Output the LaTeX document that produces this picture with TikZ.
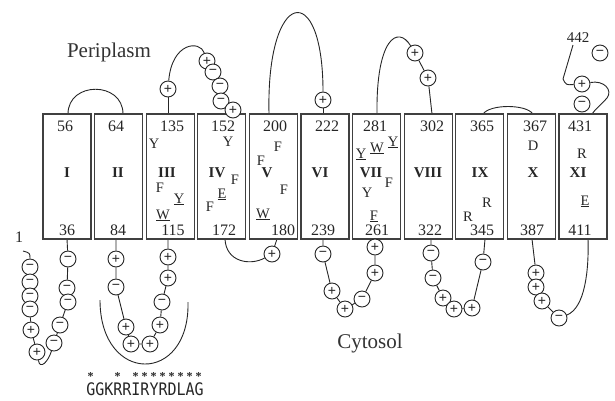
\documentclass[tikz,border=0pt]{standalone}
\usepackage{fontspec}
\usepackage{graphicx}
\setmainfont{Liberation Serif}
\newfontfamily\signfont{Liberation Sans}
\newfontfamily\seqfont{DejaVu Sans Mono}
\usetikzlibrary{backgrounds}
\tikzset{
  tmbox/.style={draw=black!75, line width=1.3pt, minimum width=48pt, minimum height=125pt, inner sep=0pt},
  num/.style={font=\fontsize{16}{16}\selectfont, text=black!85, inner sep=0pt},
  rom/.style={font=\fontsize{15}{15}\selectfont\bfseries, text=black!85, inner sep=0pt},
  res/.style={font=\fontsize{14.5}{14.5}\selectfont, text=black!85, inner sep=0pt, anchor=base},
  posres/.style={circle, draw=black!85, line width=0.9pt, fill=white, minimum size=16pt, inner sep=0pt, font=\signfont\fontsize{14}{14}\selectfont, text=black!85},
  negres/.style={posres},
  conn/.style={draw=black!85, line width=0.9pt},
  region/.style={font=\fontsize{21}{21}\selectfont, text=black!80, inner sep=0pt},
  astk/.style={font=\fontsize{12}{12}\selectfont\bfseries, text=black!85, inner sep=0pt}
}
\begin{document}
\begin{tikzpicture}[x=1pt,y=-1pt]
\useasboundingbox (0,0) rectangle (615,400);
% membrane boxes
\foreach \i in {1,...,11} \node[tmbox] (b\i) at ({67+51.6*(\i-1)},176.5) {};
% roman numerals
\node[rom] (r1) at (67,173) {I};
\node[rom] (r2) at (118,173) {II};
\node[rom] (r3) at (167,173) {III};
\node[rom] (r4) at (217,173) {IV};
\node[rom] (r5) at (267,173) {V};
\node[rom] (r6) at (320,173) {VI};
\node[rom] (r7) at (371,173) {VII};
\node[rom] (r8) at (428,173) {VIII};
\node[rom] (r9) at (480,173) {IX};
\node[rom] (r10) at (533,173) {X};
\node[rom] (r11) at (578,173) {XI};
% numbers
\node[num] (nt1) at (65,126) {56};
\node[num] (nt2) at (116,126) {64};
\node[num] (nt3) at (172,126) {135};
\node[num] (nt4) at (223,126) {152};
\node[num] (nt5) at (275,126) {200};
\node[num] (nt6) at (327,126) {222};
\node[num] (nt7) at (375,126) {281};
\node[num] (nt8) at (432,126) {302};
\node[num] (nt9) at (482,126) {365};
\node[num] (nt10) at (535,126) {367};
\node[num] (nt11) at (580,126) {431};
\node[num] (nb1) at (67,230) {36};
\node[num] (nb2) at (118,230) {84};
\node[num] (nb3) at (173,230) {115};
\node[num] (nb4) at (224,230) {172};
\node[num] (nb5) at (283,230) {180};
\node[num] (nb6) at (323,230) {239};
\node[num] (nb7) at (377,230) {261};
\node[num] (nb8) at (430,230) {322};
\node[num] (nb9) at (482,230) {345};
\node[num] (nb10) at (532,230) {387};
\node[num] (nb11) at (580,230) {411};
% residues
\node[res] (y3a) at (154,148) {Y};
\node[res] (f3a) at (160,192) {F};
\node[res] (y3b) at (179,203) {\underline{Y}};
\node[res] (w3a) at (163,219) {\underline{W}};
\node[res] (y4a) at (228,146) {Y};
\node[res] (f4a) at (235,184) {F};
\node[res] (e4a) at (222,198) {\underline{E}};
\node[res] (f4b) at (210,211) {F};
\node[res] (f5a) at (278,151) {F};
\node[res] (f5b) at (261,165) {F};
\node[res] (f5c) at (284,194) {F};
\node[res] (w5a) at (263,218) {\underline{W}};
\node[res] (y7a) at (361,158) {\underline{Y}};
\node[res] (w7a) at (377,152) {\underline{W}};
\node[res] (y7b) at (393,146) {\underline{Y}};
\node[res] (f7a) at (389,187) {F};
\node[res] (y7c) at (367,197) {Y};
\node[res] (f7b) at (374,220) {\underline{F}};
\node[res] (r9a) at (487,207) {R};
\node[res] (r9b) at (468,221) {R};
\node[res] (d10a) at (533,150) {D};
\node[res] (r11a) at (582,158) {R};
\node[res] (e11a) at (585,205) {\underline{E}};
% region labels
\node[region] (peri) at (109,52) {Periplasm};
\node[region] (cyto) at (370,343) {Cytosol};
% periplasmic side
\coordinate (t1) at (68,114); \coordinate (t2) at (123,114);
\coordinate (t3) at (168,114);
\node[posres] (a1) at (168,89) {+};
\node[posres] (a2) at (207,61) {+};
\node[negres] (a3) at (213,72) {−};
\node[negres] (a4) at (220,86) {−};
\node[negres] (a5) at (221,101) {−};
\node[posres] (a6) at (233,110) {+};
\coordinate (t5) at (269,114);
\node[posres] (a7) at (323,100) {+};
\coordinate (t6) at (323,114);
\coordinate (t7) at (377,114);
\node[posres] (a8) at (415,53) {+};
\node[posres] (a9) at (428,78) {+};
\coordinate (t8) at (432,114);
\coordinate (t9) at (483,114); \coordinate (t10) at (533,114);
\node[negres] (a12) at (600,53) {−};
\node[posres] (a11) at (582,84) {+};
\node[negres] (a10) at (582,104) {−};
\node[num, font=\fontsize{15}{15}\selectfont] (n442) at (578,38) {442};
\coordinate (e1) at (573,45); \coordinate (e2) at (563,79);
\coordinate (t11) at (592,114);
% cytoplasmic side
\node[num] (n1) at (19,237) {1};
\coordinate (e3) at (23,251);
\node[negres] (c1) at (30,267) {−};
\node[negres] (c2) at (30,282) {−};
\node[negres] (c3) at (30,296) {−};
\node[negres] (c4) at (30,309) {−};
\node[posres] (c5) at (31,330) {+};
\node[posres] (c6) at (37,352) {+};
\coordinate (b1s) at (67,239);
\node[negres] (d1) at (68,259) {−};
\node[negres] (d2) at (67,288) {−};
\node[negres] (d3) at (68,302) {−};
\node[negres] (d4) at (60,325) {−};
\node[negres] (d5) at (54,343) {−};
\coordinate (b2s) at (116,239);
\node[posres] (k1) at (116,259) {+};
\node[negres] (k2) at (116,287) {−};
\node[posres] (k3) at (126,327) {+};
\node[posres] (k4) at (131,344) {+};
\node[posres] (k5) at (150,344) {+};
\node[posres] (k6) at (160,325) {+};
\node[negres] (k7) at (162,302) {−};
\node[posres] (k8) at (168,278) {+};
\node[posres] (k9) at (168,257) {+};
\coordinate (b3s) at (168,239);
\coordinate (u1) at (100,300); \coordinate (u2) at (188,302);
\coordinate (b4s) at (225,239);
\node[posres] (q1) at (272,254) {+};
\coordinate (b5s) at (277,239);
\coordinate (b6s) at (323,239);
\node[negres] (g1) at (323,254) {−};
\node[posres] (g2) at (332,291) {+};
\node[posres] (g3) at (345,309) {+};
\node[negres] (g4) at (362,299) {−};
\node[posres] (g5) at (375,273) {+};
\node[posres] (g6) at (375,247) {+};
\coordinate (b7s) at (375,239);
\coordinate (b8s) at (431,239);
\node[negres] (s1) at (431,253) {−};
\node[negres] (s2) at (433,278) {−};
\node[posres] (s3) at (443,298) {+};
\node[posres] (s4) at (454,309) {+};
\node[posres] (s5) at (472,308) {+};
\node[negres] (s6) at (483,262) {−};
\coordinate (b9s) at (485,239);
\coordinate (b10s) at (532,239);
\node[posres] (h1) at (536,273) {+};
\node[posres] (h2) at (536,287) {+};
\node[posres] (h3) at (542,301) {+};
\node[negres] (h4) at (559,318) {−};
\coordinate (b11s) at (588,239);
% sequence
\node[inner sep=0pt, text=black!85] (seq) at (145,389.5) {\seqfont\fontsize{15}{15}\selectfont\scalebox{1}[1.15]{GGKRRIRYRDLAG}};
\foreach \i in {0,3,5,6,7,8,9,10,11,12} \node[astk] (ast\i) at ({90.5+9*\i},377) {*};
% connectors
\begin{scope}[on background layer]
\draw[conn] (t1) .. controls (68,81) and (123,81) .. (t2);
\draw[conn] (t3) -- (a1);
\draw[conn] (a1) .. controls (172,42) and (200,40) .. (a2);
\draw[conn] (a2) -- (a3) -- (a4) -- (a5) -- (a6);
\draw[conn] (t5) .. controls (266,-12) and (323,-22) .. (a7);
\draw[conn] (a7) -- (t6);
\draw[conn] (t7) .. controls (376,38) and (398,25) .. (a8);
\draw[conn] (a8) -- (a9) -- (t8);
\draw[conn] (t9) .. controls (490,104) and (526,104) .. (t10);
\draw[conn] (e1) -- (e2) .. controls (566,85) .. (a11);
\draw[conn] (a11) .. controls (604,80) and (613,90) .. (607,98) .. controls (602,104) and (596,108) .. (t11);
\draw[conn] (e3) .. controls (30,253) .. (c1);
\draw[conn] (c1) -- (c2) -- (c3) -- (c4) -- (c5) -- (c6);
\draw[conn] (c6) .. controls (40,370) and (48,362) .. (d5);
\draw[conn] (b1s) -- (d1) -- (d2) -- (d3) -- (d4) -- (d5);
\draw[conn] (b2s) -- (k1) -- (k2) -- (k3) -- (k4) -- (k5) -- (k6) -- (k7) -- (k8) -- (k9) -- (b3s);
\draw[conn] (u1) .. controls (100,385) and (190,385) .. (u2);
\draw[conn] (b4s) .. controls (226,262) and (250,266) .. (q1);
\draw[conn] (q1) -- (b5s);
\draw[conn] (b6s) -- (g1) -- (g2) -- (g3) -- (g4) -- (g5) -- (g6) -- (b7s);
\draw[conn] (b8s) -- (s1) -- (s2) -- (s3) -- (s4) -- (s5) -- (s6) -- (b9s);
\draw[conn] (b10s) -- (h1) -- (h2) -- (h3) -- (h4);
\draw[conn] (h4) .. controls (585,308) and (589,270) .. (b11s);
\end{scope}
\end{tikzpicture}
\end{document}
